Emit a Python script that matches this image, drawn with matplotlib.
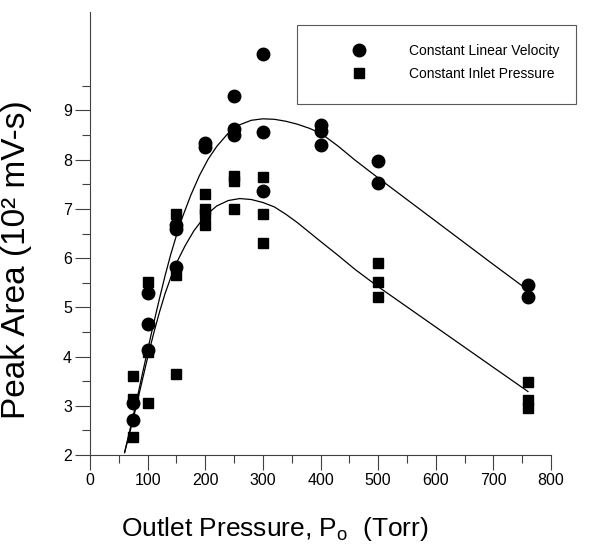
import matplotlib
matplotlib.use("Agg")
import matplotlib.pyplot as plt
from matplotlib.lines import Line2D
from matplotlib.patches import Rectangle

# Constant Linear Velocity (circles)
clv_pressure = [75, 75, 100, 100, 100, 150, 150, 150, 200, 200, 250, 250, 250,
                300, 300, 300, 400, 400, 400, 500, 500, 760, 760]
clv_area = [2.72, 3.05, 4.14, 4.67, 5.30, 5.81, 6.60, 6.68, 8.25, 8.34, 8.50, 8.62, 9.30,
            7.36, 8.56, 10.15, 8.29, 8.59, 8.70, 7.53, 7.97, 5.22, 5.45]

# Constant Inlet Pressure (squares)
cip_pressure = [75, 75, 75, 100, 100, 100, 150, 150, 150, 200, 200, 200, 200,
                250, 250, 250, 300, 300, 300, 500, 500, 500, 760, 760, 760]
cip_area = [2.36, 3.13, 3.60, 3.06, 4.10, 5.51, 3.65, 5.66, 6.90, 6.68, 6.90, 7.00, 7.30,
            6.99, 7.57, 7.66, 6.31, 6.90, 7.65, 5.21, 5.52, 5.91, 2.96, 3.12, 3.48]

# fitted curves
clv_fit_x = [60, 70, 80, 90, 100, 110, 120, 130, 140, 150, 160, 175, 190, 205, 220, 240,
             260, 280, 300, 320, 340, 360, 380, 400, 430, 460, 500, 550, 600, 650, 700, 760]
clv_fit_y = [2.05, 2.55, 3.05, 3.60, 4.13, 4.65, 5.15, 5.63, 6.07, 6.46, 6.82, 7.28, 7.68,
             8.01, 8.27, 8.54, 8.71, 8.80, 8.83, 8.82, 8.78, 8.72, 8.64, 8.54, 8.28, 7.99,
             7.63, 7.19, 6.75, 6.31, 5.87, 5.35]

cip_fit_x = [60, 70, 80, 90, 100, 110, 120, 130, 140, 150, 165, 180, 200, 220, 240, 260,
             280, 300, 320, 340, 360, 380, 400, 430, 460, 500, 550, 600, 650, 700, 760]
cip_fit_y = [2.05, 2.50, 2.98, 3.48, 3.98, 4.45, 4.88, 5.27, 5.60, 5.90, 6.25, 6.55, 6.86,
             7.06, 7.17, 7.21, 7.19, 7.13, 7.04, 6.89, 6.72, 6.53, 6.34, 6.06, 5.77, 5.42,
             5.01, 4.60, 4.19, 3.78, 3.29]

plt.rcParams["font.family"] = ["Liberation Sans", "DejaVu Sans"]
plt.rcParams["mathtext.fontset"] = "custom"
plt.rcParams["mathtext.rm"] = "Liberation Sans"
plt.rcParams["mathtext.it"] = "Liberation Sans"

W, H = 589, 545
fig = plt.figure(figsize=(W / 100, H / 100), dpi=100)
ax = fig.add_axes([90 / W, 1 - 455 / H, 461 / W, 443 / H])

ax.plot(clv_fit_x, clv_fit_y, color="black", lw=0.9)
ax.plot(cip_fit_x, cip_fit_y, color="black", lw=0.9)
ax.plot(clv_pressure, clv_area, "o", color="black", markersize=9, clip_on=False)
ax.plot(cip_pressure, cip_area, "s", color="black", markersize=7.8, clip_on=False)

ax.set_xlim(0, 800)
ax.set_ylim(2, 11)
ax.set_xticks(range(0, 801, 100))
ax.set_xticks(range(50, 800, 100), minor=True)
ax.set_yticks(range(2, 10))
ax.set_yticks([2.5, 3.5, 4.5, 5.5, 6.5, 7.5, 8.5, 9.5], minor=True)
for side in ["top", "right"]:
    ax.spines[side].set_visible(False)
for side in ["left", "bottom"]:
    ax.spines[side].set_linewidth(0.8)
    ax.spines[side].set_color("0.25")
ax.tick_params(which="major", length=11, width=0.8, color="0.25", labelsize=11.5, pad=2)
ax.tick_params(which="minor", length=6, width=0.8, color="0.25")

ax.set_ylabel("Peak Area (10² mV-s)", fontsize=24)
ax.yaxis.set_label_coords(-58 / 461, 0.44)
ax.set_xlabel(r"Outlet Pressure, P$_\mathregular{o}$  (Torr)", fontsize=19)
ax.xaxis.set_label_coords(0.40, -60 / 443)

# legend box
fig.patches.append(Rectangle((297 / W, 1 - 104 / H), 279 / W, 79 / H,
                             transform=fig.transFigure, fill=False,
                             lw=0.8, edgecolor="0.35"))
handles = [Line2D([], [], marker="o", ls="none", color="black", markersize=9),
           Line2D([], [], marker="s", ls="none", color="black", markersize=7.5)]
fig.legend(handles, ["Constant Linear Velocity", "Constant Inlet Pressure"],
           loc="upper left", bbox_to_anchor=(338 / W, 1 - 37 / H),
           frameon=False, fontsize=10, borderpad=0, handlelength=2,
           handletextpad=2.6, labelspacing=0.62)

fig.savefig("out.png", dpi=100)
